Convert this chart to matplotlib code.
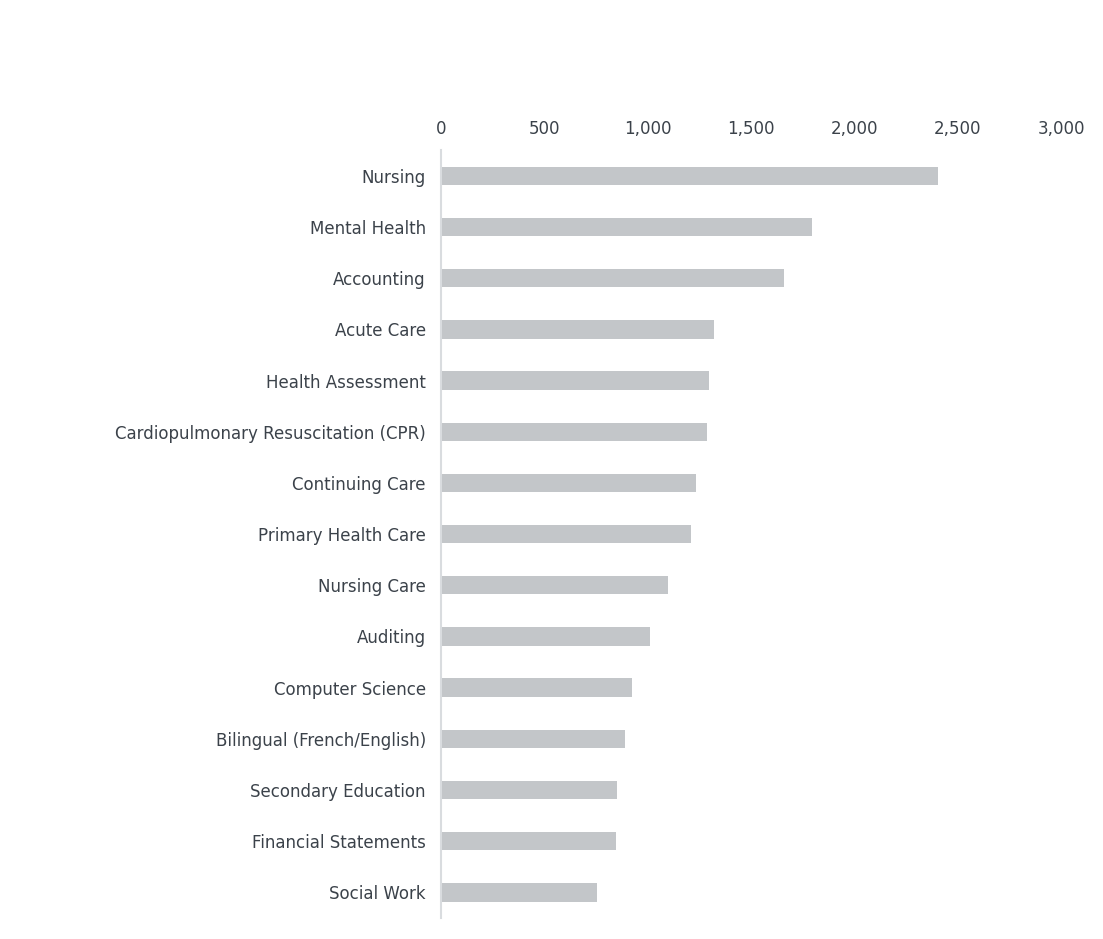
import matplotlib
matplotlib.use("Agg")
import matplotlib.pyplot as plt
from matplotlib.ticker import FuncFormatter

plt.rcParams["font.family"] = ["DejaVu Sans"]

categories = ["Nursing", "Mental Health", "Accounting", "Acute Care", "Health Assessment",
              "Cardiopulmonary Resuscitation (CPR)", "Continuing Care", "Primary Health Care",
              "Nursing Care", "Auditing", "Computer Science", "Bilingual (French/English)",
              "Secondary Education", "Financial Statements", "Social Work"]
values = [2405, 1795, 1660, 1321, 1297, 1287, 1234, 1210, 1100, 1012, 925, 890, 852, 847, 755]
xticks = [0, 500, 1000, 1500, 2000, 2500, 3000]

text_color = "#3b424a"
fig = plt.figure(figsize=(11.03, 9.39), dpi=100)
ax = fig.add_axes([0.4, 0.0224, 0.562, 0.8176])
y = list(range(len(categories)))
ax.barh(y, values, height=0.36, color="#c3c6c9")
ax.set_ylim(len(categories) - 0.5, -0.5)
ax.set_xlim(0, 3000)
ax.set_yticks(y)
ax.set_yticklabels(categories)
ax.set_xticks(xticks)
ax.xaxis.set_major_formatter(FuncFormatter(lambda v, p: f"{int(v):,}"))
ax.xaxis.tick_top()
ax.tick_params(axis="both", length=0, labelsize=12, colors=text_color)
ax.tick_params(axis="x", pad=9)
ax.tick_params(axis="y", pad=11)
for s in ["top", "right", "bottom"]:
    ax.spines[s].set_visible(False)
ax.spines["left"].set_color("#d9dcdf")
ax.spines["left"].set_linewidth(1.5)
fig.savefig("out.png", dpi=100, facecolor="white")
